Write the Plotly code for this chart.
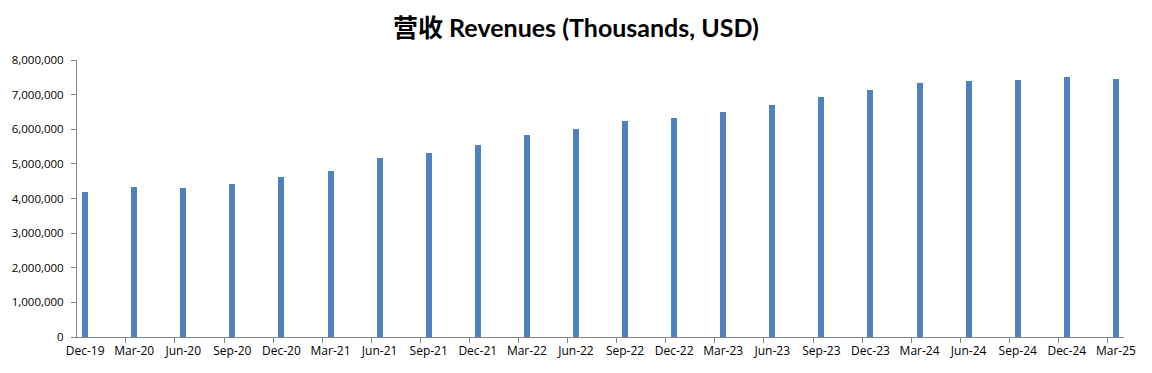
import plotly.graph_objects as go

quarters = ["Dec-19", "Mar-20", "Jun-20", "Sep-20", "Dec-20", "Mar-21", "Jun-21",
            "Sep-21", "Dec-21", "Mar-22", "Jun-22", "Sep-22", "Dec-22", "Mar-23",
            "Jun-23", "Sep-23", "Dec-23", "Mar-24", "Jun-24", "Sep-24", "Dec-24", "Mar-25"]
revenues = [4200000, 4320000, 4290000, 4410000, 4610000, 4780000, 5160000,
            5300000, 5540000, 5830000, 6000000, 6230000, 6320000, 6490000,
            6700000, 6930000, 7130000, 7330000, 7390000, 7420000, 7510000, 7450000]
y_ticks = [0, 1000000, 2000000, 3000000, 4000000, 5000000, 6000000, 7000000, 8000000]

n = len(quarters)
xpos = list(range(n))
pad = 0.165
tick_offset = 0.17

fig = go.Figure()
fig.add_trace(go.Bar(x=xpos, y=revenues, width=0.122,
                     marker=dict(color="#4F81BD", line=dict(width=0)),
                     hovertext=quarters, showlegend=False))
# invisible trace to carry the tick-mark axis
fig.add_trace(go.Scatter(x=[xpos[0]], y=[0], xaxis="x2", mode="markers",
                         marker=dict(opacity=0), showlegend=False, hoverinfo="skip"))

axis_color = "#868686"
fig.update_layout(
    width=1144, height=365,
    margin=dict(l=69, r=28, t=52, b=36, autoexpand=False),
    paper_bgcolor="white", plot_bgcolor="white",
    title=dict(text="<b>营收 Revenues (Thousands, USD)</b>", x=0.4965, xanchor="center",
               y=0.945, yanchor="middle",
               font=dict(family="Lato, 'Noto Sans CJK SC'", size=25, color="#000000")),
    font=dict(family="'Open Sans', 'Noto Sans', sans-serif", size=11, color="#000000"),
    xaxis=dict(range=[-pad, n - 1 + pad], tickvals=xpos, ticktext=quarters,
               ticks="", showgrid=False, zeroline=False, showline=True,
               linecolor=axis_color, linewidth=1, tickfont=dict(size=12),
               ticklabelstandoff=3, fixedrange=True, automargin=False),
    xaxis2=dict(range=[-pad, n - 1 + pad], overlaying="x", anchor="y", side="bottom",
                tickvals=[i - tick_offset for i in xpos], showticklabels=False,
                ticks="outside", ticklen=5, tickcolor=axis_color, tickwidth=1,
                showgrid=False, zeroline=False, showline=False, automargin=False),
    yaxis=dict(range=[0, 8000000], tickvals=y_ticks, tickformat=",d",
               ticks="outside", ticklen=5, tickcolor=axis_color,
               showgrid=False, zeroline=False, showline=True,
               linecolor=axis_color, linewidth=1, tickfont=dict(size=11.5),
               ticklabelstandoff=5, automargin=False),
    bargap=0,
)

fig.write_html("out.html")
